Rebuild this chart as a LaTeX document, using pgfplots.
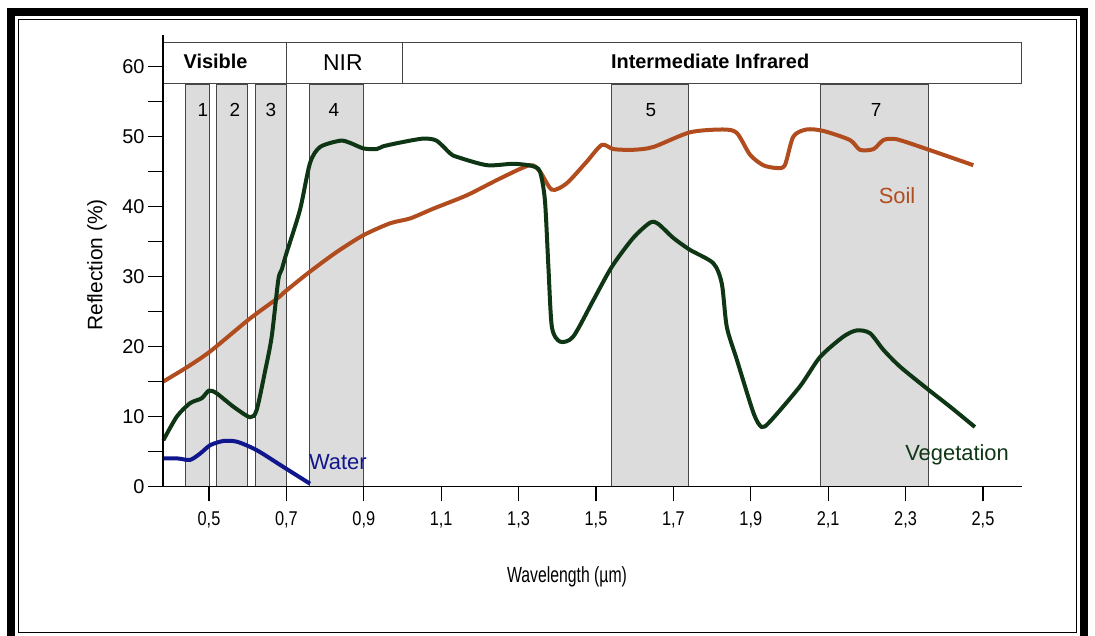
\documentclass[border=0pt]{standalone}
\usepackage{pgfplots}
\pgfplotsset{compat=1.18}
\usepackage{fontspec}
\setmainfont{Liberation Sans}
\definecolor{soil}{RGB}{176,76,30}
\definecolor{veg}{RGB}{14,54,20}
\definecolor{water}{RGB}{16,22,140}
\definecolor{bandgray}{RGB}{220,220,220}
\definecolor{edge}{RGB}{70,70,70}
\newcommand\nx[1]{\scalebox{0.82}[1]{#1}}
\begin{document}
\begin{tikzpicture}
\begin{axis}[
  x=387bp, y=7bp,
  xmin=0.381, xmax=2.60, ymin=0, ymax=64.5,
  axis x line=bottom, axis y line=left,
  axis line style={-, line width=1.3bp, black},
  axis on top,
  tick align=outside,
  major tick length=15bp,
  tick style={line width=1.3bp, black},
  xtick={0.5,0.7,0.9,1.1,1.3,1.5,1.7,1.9,2.1,2.3,2.5},
  xticklabels={\nx{0,5},\nx{0,7},\nx{0,9},\nx{1,1},\nx{1,3},\nx{1,5},\nx{1,7},\nx{1,9},\nx{2,1},\nx{2,3},\nx{2,5}},
  ytick={0,5,10,15,20,25,30,35,40,45,50,55,60},
  yticklabels={0,,10,,20,,30,,40,,50,,60},
  xticklabel style={font=\fontsize{20}{23}\selectfont, yshift=-7bp},
  yticklabel style={font=\fontsize{20}{23}\selectfont},
  xlabel={\scalebox{0.72}[1]{Wavelength (µm)}},
  ylabel={Reflection (\%)},
  xlabel style={at={(axis description cs:0.4705,-0.2004)}, anchor=center, font=\fontsize{22}{25}\selectfont},
  ylabel style={at={(axis description cs:-0.0768,0.4906)}, anchor=center, font=\fontsize{21}{24}\selectfont},
  clip=false,
]
% spectral bands
\addplot[fill=bandgray, draw=edge, line width=0.9bp] coordinates {(0.44,57.5) (0.50,57.5)} \closedcycle;
\addplot[fill=bandgray, draw=edge, line width=0.9bp] coordinates {(0.52,57.5) (0.60,57.5)} \closedcycle;
\addplot[fill=bandgray, draw=edge, line width=0.9bp] coordinates {(0.62,57.5) (0.70,57.5)} \closedcycle;
\addplot[fill=bandgray, draw=edge, line width=0.9bp] coordinates {(0.76,57.5) (0.90,57.5)} \closedcycle;
\addplot[fill=bandgray, draw=edge, line width=0.9bp] coordinates {(1.54,57.5) (1.74,57.5)} \closedcycle;
\addplot[fill=bandgray, draw=edge, line width=0.9bp] coordinates {(2.08,57.5) (2.36,57.5)} \closedcycle;
% header box
\addplot[fill=white, draw=edge, line width=1bp] coordinates {(0.381,57.5) (0.381,63.4) (2.60,63.4) (2.60,57.5)} -- cycle;
\addplot[draw=edge, line width=1bp] coordinates {(0.70,57.5) (0.70,63.4)};
\addplot[draw=edge, line width=1bp] coordinates {(1.00,57.5) (1.00,63.4)};
% curves
\addplot[soil, line width=4bp, smooth, tension=0.45] coordinates {
(0.382,15.0) (0.442,17.0) (0.503,19.3) (0.606,24.0) (0.675,26.8) (0.70,28.0) (0.761,30.7) (0.83,33.5) (0.899,35.9) (0.968,37.6) (1.02,38.3) (1.08,39.7) (1.166,41.6) (1.252,44.0) (1.329,45.9) (1.355,45.0) (1.386,42.4) (1.424,43.3) (1.476,46.4) (1.515,48.8) (1.545,48.2) (1.596,48.1) (1.648,48.5) (1.743,50.6) (1.829,51.0) (1.864,50.5) (1.898,47.4) (1.932,45.9) (1.967,45.5) (1.988,45.9) (2.01,50.0) (2.044,51.0) (2.087,50.8) (2.156,49.5) (2.182,48.1) (2.217,48.2) (2.243,49.5) (2.277,49.6) (2.355,48.2) (2.475,45.9)
};
\addplot[veg, line width=4bp, smooth, tension=0.45] coordinates {
(0.382,6.6) (0.417,10.0) (0.451,11.9) (0.481,12.6) (0.50,13.7) (0.52,13.3) (0.563,11.4) (0.606,9.9) (0.623,10.9) (0.645,16.5) (0.662,21.4) (0.679,29.5) (0.688,31.0) (0.70,33.3) (0.735,39.5) (0.761,46.2) (0.787,48.5) (0.839,49.4) (0.864,49.1) (0.899,48.3) (0.933,48.2) (0.95,48.6) (1.00,49.2) (1.054,49.7) (1.088,49.4) (1.123,47.6) (1.14,47.1) (1.218,45.9) (1.286,46.1) (1.334,45.8) (1.355,45.0) (1.368,40.9) (1.377,31.4) (1.386,22.8) (1.407,20.7) (1.441,21.4) (1.493,26.6) (1.541,31.4) (1.596,35.5) (1.64,37.7) (1.661,37.5) (1.70,35.5) (1.743,33.8) (1.803,31.9) (1.825,29.0) (1.838,22.8) (1.864,18.1) (1.907,10.5) (1.928,8.5) (1.95,9.3) (2.027,14.3) (2.079,18.5) (2.139,21.4) (2.174,22.3) (2.208,21.9) (2.243,19.5) (2.286,17.1) (2.355,14.0) (2.415,11.4) (2.479,8.5)
};
\addplot[water, line width=4bp, smooth, tension=0.45] coordinates {
(0.382,4.0) (0.42,4.0) (0.451,3.8) (0.477,4.7) (0.503,5.9) (0.537,6.5) (0.572,6.4) (0.623,5.2) (0.692,2.8) (0.761,0.4)
};
% texts
\node[font=\bfseries\fontsize{20}{24}\selectfont] at (axis cs:0.517,60.7) {Visible};
\node[font=\fontsize{23}{27}\selectfont] at (axis cs:0.846,60.6) {NIR};
\node[font=\bfseries\fontsize{20}{24}\selectfont] at (axis cs:1.795,60.7) {Intermediate Infrared};
\node[font=\fontsize{19}{22}\selectfont] at (axis cs:0.4845,53.8) {1};
\node[font=\fontsize{19}{22}\selectfont] at (axis cs:0.567,53.8) {2};
\node[font=\fontsize{19}{22}\selectfont] at (axis cs:0.660,53.8) {3};
\node[font=\fontsize{19}{22}\selectfont] at (axis cs:0.823,53.8) {4};
\node[font=\fontsize{19}{22}\selectfont] at (axis cs:1.642,53.8) {5};
\node[font=\fontsize{19}{22}\selectfont] at (axis cs:2.224,53.8) {7};
\node[soil, font=\fontsize{22}{26}\selectfont] at (axis cs:2.278,41.5) {Soil};
\node[veg, font=\fontsize{22}{26}\selectfont] at (axis cs:2.433,4.5) {Vegetation};
\node[water, font=\fontsize{22}{26}\selectfont] at (axis cs:0.833,3.5) {Water};
\coordinate (O) at (axis cs:-0.04005,69.5);
\end{axis}
\begin{scope}[shift={(O)}, x=1bp, y=-1bp]
\draw[line width=8bp] (11,12.5) rectangle (1084,645);
\draw[line width=1.6bp] (18.5,19.5) rectangle (1076.5,632.5);
\end{scope}
\pgfresetboundingbox
\path[use as bounding box] (O) rectangle ([shift={(1095bp,-636bp)}]O);
\end{tikzpicture}
\end{document}
